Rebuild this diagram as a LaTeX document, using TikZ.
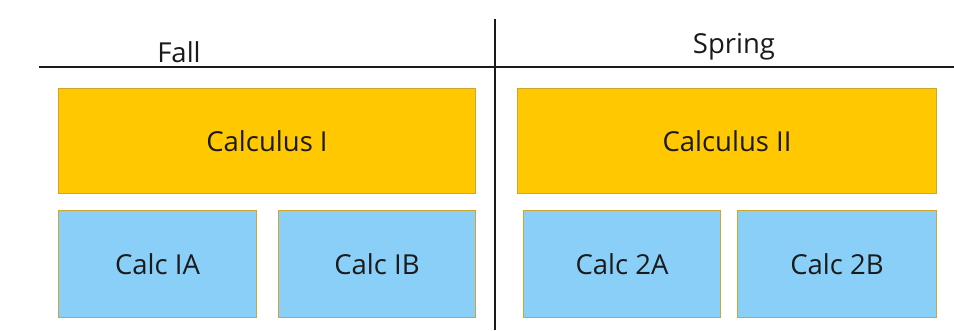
\documentclass[tikz,border=0pt]{standalone}
\usepackage{fontspec}
\setmainfont{Open Sans}
\definecolor{calcgold}{HTML}{FFC800}
\definecolor{calcblue}{HTML}{8ACFF7}
\definecolor{edgegold}{HTML}{CFA52A}
\definecolor{inkgray}{HTML}{1A1A1A}
\tikzset{
  course/.style={draw=edgegold, line width=1pt, fill=calcgold, anchor=north west,
    minimum height=105pt, inner sep=0pt, font=\fontsize{27.5}{33}\selectfont, text=inkgray},
  section/.style={draw=edgegold, line width=1pt, fill=calcblue, anchor=north west,
    minimum height=107pt, minimum width=198pt, inner sep=0pt, font=\fontsize{27.5}{33}\selectfont, text=inkgray},
  term/.style={font=\fontsize{27.5}{33}\selectfont, text=inkgray, anchor=base},
  rule/.style={line width=2pt, draw=inkgray}
}
\begin{document}
\begin{tikzpicture}[x=1pt,y=-1pt]
  \useasboundingbox (0,0) rectangle (954,330);
  % term dividers
  \coordinate (hl) at (39,67);
  \coordinate (hr) at (954,67);
  \coordinate (vt) at (495,19);
  \coordinate (vb) at (495,330);
  \draw[rule] (hl) -- (hr);
  \draw[rule] (vt) -- (vb);
  % term headings
  \node[term] (fall) at (179,62) {Fall};
  \node[term] (spring) at (734,53) {Spring};
  % full courses
  \node[course, minimum width=417pt] (calc1) at (58,88) {Calculus I};
  \node[course, minimum width=419pt] (calc2) at (517,88) {Calculus II};
  % half-term sections
  \node[section] (c1a) at (58,210) {Calc IA};
  \node[section, minimum width=197pt] (c1b) at (278,210) {Calc IB};
  \node[section, minimum width=197pt] (c2a) at (523,210) {Calc 2A};
  \node[section, minimum width=199pt] (c2b) at (737,210) {Calc 2B};
\end{tikzpicture}
\end{document}
